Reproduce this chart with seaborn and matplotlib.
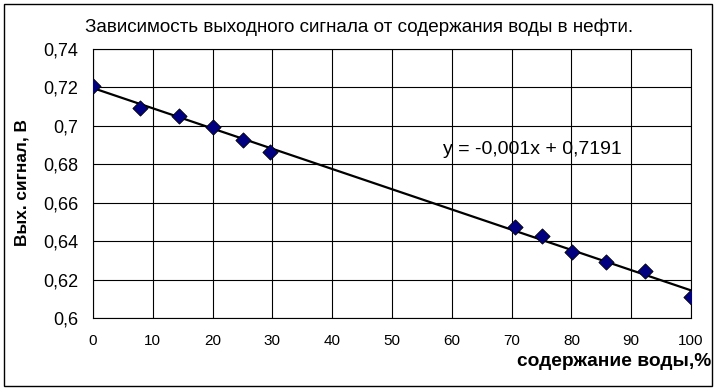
import numpy as np
import pandas as pd
import matplotlib
matplotlib.use("Agg")
import matplotlib.pyplot as plt
import seaborn as sns
from matplotlib.patches import Rectangle
from matplotlib.ticker import FuncFormatter

water = [0, 7.9, 14.4, 20.1, 25.1, 29.6, 70.6, 75.1, 80.1, 85.8, 92.3, 100]
signal = [0.7208, 0.7094, 0.7052, 0.6995, 0.6927, 0.6865,
          0.6474, 0.6427, 0.6344, 0.6292, 0.6245, 0.6109]
title = "Зависимость выходного сигнала от содержания воды в нефти."
xlabel = "содержание воды,%"
ylabel = "Вых. сигнал, В"
equation = "y = -0,001x + 0,7191"

sns.set_style("white")
plt.rcParams['font.family'] = ['Liberation Sans', 'DejaVu Sans']
plt.rcParams['text.color'] = 'black'
plt.rcParams['xtick.color'] = 'black'
plt.rcParams['ytick.color'] = 'black'
plt.rcParams['axes.labelcolor'] = 'black'

df = pd.DataFrame({"water": water, "signal": signal})
k, b = np.polyfit(water, signal, 1)
trend = pd.DataFrame({"water": [0, 100]})
trend["signal"] = k * trend["water"] + b

fig = plt.figure(figsize=(7.18, 3.89), dpi=100)
ax = fig.add_axes([93/718, 1-318/389, (691-93)/718, (318-49)/389])

sns.lineplot(data=trend, x="water", y="signal", ax=ax, color="black", lw=1.6, zorder=3)
sns.scatterplot(data=df, x="water", y="signal", ax=ax, marker="D", s=60,
                color="#000080", edgecolor="black", linewidth=0.6, zorder=4)

ax.set_xlim(0, 100)
ax.set_ylim(0.6, 0.74)
ax.set_xticks(np.arange(0, 101, 10))
ax.set_yticks(np.round(np.arange(0.6, 0.7401, 0.02), 2))
ax.yaxis.set_major_formatter(FuncFormatter(lambda v, p: f"{round(v, 2):g}".replace('.', ',')))
ax.grid(True, color="black", lw=0.8)
for s in ax.spines.values():
    s.set_visible(True)
    s.set_color("black")
    s.set_linewidth(0.8)
ax.tick_params(axis="both", direction="out", length=4.5, width=0.8, color="black",
               labelcolor="black")
ax.tick_params(axis="y", labelsize=13, pad=6)
ax.tick_params(axis="x", labelsize=11, pad=7)
ax.set_xlabel("")
ax.set_ylabel("")

fig.text(359/718, 1-27/389, title, ha="center", va="center", fontsize=13.6, color="black")
fig.text(22/718, 1-183/389, ylabel, ha="center", va="center", rotation=90,
         fontsize=12.4, fontweight="bold", color="black")
fig.text(711/718, 1-362/389, xlabel, ha="right", va="center", fontsize=13.8,
         fontweight="bold", color="black")
ax.text(58.5, 0.6875, equation, ha="left", va="center", fontsize=14, color="black")

fig.patches.append(Rectangle((4/718, 1-386/389), 708/718, 382/389, transform=fig.transFigure,
                             fill=False, edgecolor="black", lw=1.0))

fig.savefig("out.png", dpi=100)
